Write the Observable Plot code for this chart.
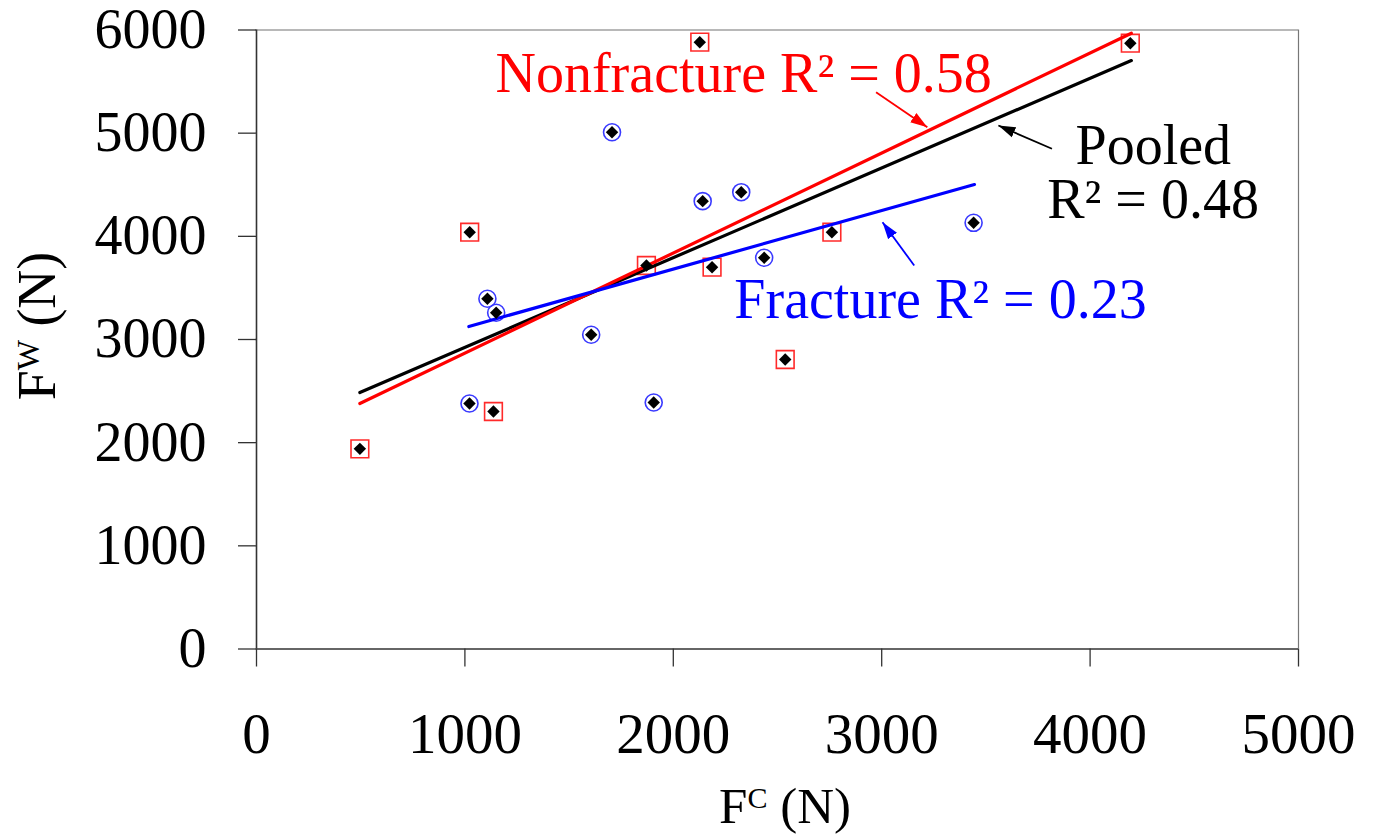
<!DOCTYPE html>
<html><head><meta charset="utf-8">
<script src="https://cdn.jsdelivr.net/npm/d3@7"></script>
<script src="https://cdn.jsdelivr.net/npm/@observablehq/plot@0.6"></script>
<style>
html,body{margin:0;padding:0;background:#fff}
#chart svg{display:block}
</style>
</head><body><div id="chart"></div>
<script>
// Nonfracture (red squares)
const nonfractureX = [496, 1023, 1137, 1871, 2127, 2186, 2537, 2761, 4193];
const nonfractureY = [1940, 4040, 2302, 3717, 5882, 3701, 2806, 4040, 5872];
// Fracture (blue circles)
const fractureX = [1022, 1108, 1150, 1606, 1706, 1906, 2141, 2326, 2436, 3441];
const fractureY = [2380, 3395, 3259, 3046, 5009, 2389, 4341, 4428, 3792, 4131];
// Regression line endpoints
const pooledLineX = [496, 4198], pooledLineY = [2486, 5704];
const nonfractureLineX = [496, 4198], nonfractureLineY = [2380, 5969];
const fractureLineX = [1019, 3445], fractureLineY = [3126, 4502];
// Annotation arrows [start, end]
const redArrowX = [2973, 3219], redArrowY = [5397, 5058];
const blackArrowX = [3817, 3560], blackArrowY = [4849, 5074];
const blueArrowX = [3156, 3004], blueArrowY = [3717, 4137];
// Annotation labels
const labelText = ["Nonfracture R\u00B2 = 0.58", "Pooled", "R\u00B2 = 0.48", "Fracture R\u00B2 = 0.23"];
const labelX = [1147, 3930, 3794, 2293];
const labelY = [5397, 4703, 4180, 3213];
const labelColor = ["#ff0000", "#000000", "#000000", "#0000ff"];
// Ticks
const xTicks = [0, 1000, 2000, 3000, 4000, 5000];
const yTicks = [0, 1000, 2000, 3000, 4000, 5000, 6000];

const RED = "#ff0000", BLUE = "#0000ff";
const nonfracture = nonfractureX.map((x, i) => ({x, y: nonfractureY[i]}));
const fracture = fractureX.map((x, i) => ({x, y: fractureY[i]}));
const allPts = nonfracture.concat(fracture);
const toLine = (xs, ys) => xs.map((x, i) => ({x, y: ys[i]}));
const arrows = [
  {x1: redArrowX[0], y1: redArrowY[0], x2: redArrowX[1], y2: redArrowY[1], c: RED},
  {x1: blackArrowX[0], y1: blackArrowY[0], x2: blackArrowX[1], y2: blackArrowY[1], c: "#000000"},
  {x1: blueArrowX[0], y1: blueArrowY[0], x2: blueArrowX[1], y2: blueArrowY[1], c: BLUE}
];
const labels = labelText.map((t, i) => ({t, x: labelX[i], y: labelY[i], c: labelColor[i]}));

function filledArrow(color) {
  const ns = "http://www.w3.org/2000/svg";
  const m = document.createElementNS(ns, "marker");
  m.setAttribute("viewBox", "-17 -6 17 12");
  m.setAttribute("markerWidth", 17);
  m.setAttribute("markerHeight", 12);
  m.setAttribute("markerUnits", "userSpaceOnUse");
  m.setAttribute("orient", "auto");
  m.setAttribute("fill", color);
  m.setAttribute("stroke", "none");
  const p = document.createElementNS(ns, "path");
  p.setAttribute("d", "M-17,-5.5L0,0L-17,5.5Z");
  m.appendChild(p);
  return m;
}

const W = 1374, H = 839;
const arrowMarks = arrows.map(a => Plot.link([a], {x1: "x1", y1: "y1", x2: "x2", y2: "y2", stroke: a.c, strokeWidth: 1.8, markerEnd: filledArrow}));

const plot = Plot.plot({
  width: W, height: H,
  marginLeft: 256, marginRight: 76, marginTop: 29.5, marginBottom: 190.5,
  style: {fontFamily: "'Liberation Serif', 'Times New Roman', serif", background: "#fff", color: "#000"},
  x: {domain: [0, 5000], ticks: xTicks},
  y: {domain: [0, 6000], ticks: yTicks},
  marks: [
    Plot.ruleY([6000], {stroke: "#a0a0a0", strokeWidth: 1.5}),
    Plot.ruleX([5000], {stroke: "#777", strokeWidth: 1.2}),
    Plot.axisX({ticks: xTicks, tickSize: 18, tickPadding: 46, fontSize: 57, label: null, tickFormat: d3.format("d"), stroke: "#333", strokeWidth: 1.3}),
    Plot.axisY({ticks: yTicks, tickSize: 18, tickPadding: 32, fontSize: 56, label: null, tickFormat: d3.format("d"), stroke: "#333", strokeWidth: 1.3}),
    Plot.ruleX([0], {stroke: "#333", strokeWidth: 1.6}),
    Plot.ruleY([0], {stroke: "#333", strokeWidth: 1.6}),
    Plot.dot(nonfracture, {x: "x", y: "y", symbol: "square", r: 10, stroke: "#ff2a2a", strokeWidth: 1.6, fill: "none"}),
    Plot.dot(fracture, {x: "x", y: "y", symbol: "circle", r: 8.5, stroke: "#3a3aff", strokeWidth: 1.6, fill: "none"}),
    Plot.line(toLine(pooledLineX, pooledLineY), {x: "x", y: "y", stroke: "#000", strokeWidth: 3.2}),
    Plot.line(toLine(nonfractureLineX, nonfractureLineY), {x: "x", y: "y", stroke: RED, strokeWidth: 3.2}),
    Plot.line(toLine(fractureLineX, fractureLineY), {x: "x", y: "y", stroke: BLUE, strokeWidth: 3.2}),
    Plot.dot(allPts, {x: "x", y: "y", symbol: "diamond2", r: 5.6, fill: "#000", stroke: "none"}),
    ...arrowMarks,
    Plot.text(labels, {x: "x", y: "y", text: "t", fill: "c", textAnchor: "start", lineAnchor: "bottom", fontSize: 56})
  ]
});
document.getElementById("chart").appendChild(plot);

// Axis titles with superscripts
const svg = d3.select(plot);
const xr = plot.scale("x").range;
const xt = svg.append("text")
  .attr("x", (xr[0] + xr[1]) / 2 + 8).attr("y", 823)
  .attr("text-anchor", "middle").attr("font-size", 51).attr("fill", "#000")
  .attr("font-family", "'Liberation Serif', 'Times New Roman', serif");
xt.append("tspan").text("F");
xt.append("tspan").attr("font-size", 30).attr("dy", -15).text("C");
xt.append("tspan").attr("dy", 15).text(" (N)");

const yc = 326;
const yt = svg.append("text")
  .attr("transform", `translate(55,${yc}) rotate(-90)`)
  .attr("text-anchor", "middle").attr("font-size", 54).attr("fill", "#000")
  .attr("font-family", "'Liberation Serif', 'Times New Roman', serif");
yt.append("tspan").text("F");
yt.append("tspan").attr("font-size", 32).attr("dy", -16).text("W");
yt.append("tspan").attr("dy", 16).text(" (N)");
</script>
</body></html>
